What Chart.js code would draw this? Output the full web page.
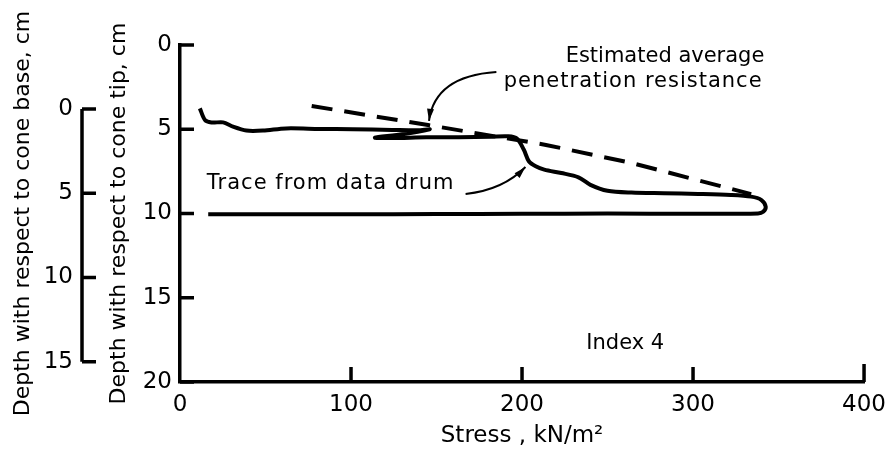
<!DOCTYPE html>
<html>
<head>
<meta charset="utf-8">
<script src="https://cdn.jsdelivr.net/npm/chart.js@4"></script>
<style>
  html, body { margin: 0; padding: 0; background: #fff; }
</style>
</head>
<body>
<canvas id="chartCono" width="895" height="453"></canvas>
<script>
// ejes
const stressTicks = [0, 100, 200, 300, 400]
const tipTicks = [0, 5, 10, 15, 20]
const baseTicks = [0, 5, 10, 15]
const baseOffset = 3.8   // la base del cono queda 3.8 cm arriba de la punta

// traza del tambor (esfuerzo kN/m2, profundidad desde la punta cm)
const traceStress = [11.6, 14.6, 18.4, 25.2, 31, 38.8, 48.5, 62, 81.5, 101, 124, 140, 146,
    130, 114, 124, 144, 163, 182, 192, 197, 201, 204, 208, 213, 223, 233, 240, 250, 264,
    283, 303, 322, 334, 340, 342.5, 341, 338, 300, 250, 200, 150, 100, 50, 16.5]
const traceDepth = [3.76, 4.45, 4.6, 4.59, 4.85, 5.08, 5.08, 4.95, 4.98, 5.0, 5.04, 5.06, 5.0,
    5.3, 5.5, 5.52, 5.48, 5.48, 5.44, 5.42, 5.55, 6.2, 6.9, 7.2, 7.4, 7.6, 7.85, 8.3, 8.65, 8.76,
    8.8, 8.84, 8.9, 9.0, 9.2, 9.6, 9.9, 10.0, 10.02, 10.0, 10.02, 10.03, 10.05, 10.05, 10.05]

// resistencia promedio estimada (linea discontinua)
const avgStress = [77, 145, 214, 264, 334]
const avgDepth = [3.62, 4.75, 5.93, 7.0, 8.85]

Chart.defaults.font.family = 'DejaVu Sans'
Chart.defaults.color = '#000'

const canvas = document.getElementById('chartCono')
const context = canvas.getContext('2d')

const toPoints = (xs, ys) => xs.map((x, i) => ({ x: x, y: ys[i] }))
const setTicks = (values) => (scale) => { scale.ticks = values.map(v => ({ value: v })) }

// marcas de los ejes hacia adentro y eje de la base
const marcasEjes = {
    id: 'marcasEjes',
    afterDraw(chart) {
        const ctx = chart.ctx
        const { x, y, yBase } = chart.scales
        const area = chart.chartArea
        ctx.save()
        ctx.strokeStyle = '#000'
        ctx.lineWidth = 3.5
        ctx.beginPath()
        tipTicks.forEach(v => {
            const py = y.getPixelForValue(v)
            ctx.moveTo(area.left, py)
            ctx.lineTo(area.left + 14, py)
        })
        stressTicks.slice(1).forEach(v => {
            const px = x.getPixelForValue(v)
            ctx.moveTo(px, area.bottom)
            ctx.lineTo(px, area.bottom - (v === 400 ? 18 : 15))
        })
        const bx = yBase.right
        ctx.moveTo(bx, yBase.getPixelForValue(baseTicks[0]))
        ctx.lineTo(bx, yBase.getPixelForValue(baseTicks[baseTicks.length - 1]))
        baseTicks.forEach(v => {
            const py = yBase.getPixelForValue(v)
            ctx.moveTo(bx, py)
            ctx.lineTo(bx + 14, py)
        })
        ctx.stroke()
        ctx.restore()
    }
}

// textos y flechas
const notas = {
    id: 'notas',
    afterDraw(chart) {
        const ctx = chart.ctx
        const { x, y } = chart.scales
        const p = (s, d) => [x.getPixelForValue(s), y.getPixelForValue(d)]

        ctx.save()
        ctx.fillStyle = '#000'
        ctx.font = '21px "DejaVu Sans"'
        ctx.textBaseline = 'middle'
        ctx.textAlign = 'center'
        let t = p(283.6, 0.71); ctx.fillText('Estimated average', t[0], t[1])
        ctx.letterSpacing = '1px'
        t = p(265, 2.14); ctx.fillText('penetration resistance', t[0], t[1])
        ctx.textAlign = 'left'
        t = p(15.7, 8.25); ctx.fillText('Trace from data drum', t[0], t[1])
        ctx.letterSpacing = '0px'
        t = p(237.6, 17.7); ctx.fillText('Index 4', t[0], t[1])

        const flecha = (a, c, b) => {
            const [ax, ay] = p(a[0], a[1])
            const [cx, cy] = p(c[0], c[1])
            const [bx, by] = p(b[0], b[1])
            ctx.strokeStyle = '#000'
            ctx.lineWidth = 2
            ctx.beginPath()
            ctx.moveTo(ax, ay)
            ctx.quadraticCurveTo(cx, cy, bx, by)
            ctx.stroke()
            const ang = Math.atan2(by - cy, bx - cx)
            const len = 12, w = 3.5
            ctx.beginPath()
            ctx.moveTo(bx, by)
            ctx.lineTo(bx - len * Math.cos(ang) + w * Math.sin(ang), by - len * Math.sin(ang) - w * Math.cos(ang))
            ctx.lineTo(bx - len * Math.cos(ang) - w * Math.sin(ang), by - len * Math.sin(ang) + w * Math.cos(ang))
            ctx.closePath()
            ctx.fill()
        }
        flecha([185, 1.6], [149, 1.84], [145.6, 4.5])
        flecha([167, 8.84], [189, 8.6], [202, 7.24])
        ctx.restore()
    }
}

const chartCono = new Chart(context, {
    type: 'line',
    data: {
        datasets: [
            {
                label: 'Trace from data drum',
                data: toPoints(traceStress, traceDepth),
                borderColor: '#000',
                borderWidth: 4,
                pointRadius: 0,
                tension: 0.3,
                fill: false
            },
            {
                label: 'Estimated average penetration resistance',
                data: toPoints(avgStress, avgDepth),
                borderColor: '#000',
                borderWidth: 4,
                borderDash: [21, 12],
                pointRadius: 0,
                tension: 0,
                fill: false
            }
        ]
    },
    options: {
        responsive: false,
        devicePixelRatio: 1,
        animation: false,
        layout: { padding: { left: 0, top: 45, right: 28, bottom: 0 } },
        plugins: {
            legend: { display: false },
            tooltip: { enabled: false }
        },
        scales: {
            x: {
                type: 'linear',
                position: 'bottom',
                min: 0,
                max: 400,
                afterBuildTicks: setTicks(stressTicks),
                afterFit: (scale) => { scale.height = 71 },
                ticks: { font: { size: 23 }, padding: 9, maxRotation: 0 },
                grid: { drawOnChartArea: false, drawTicks: false },
                border: { color: '#000', width: 3.5 },
                title: {
                    display: true,
                    text: 'Stress , kN/m²',
                    font: { size: 23 },
                    padding: { top: 0, bottom: 3 }
                }
            },
            y: {
                type: 'linear',
                position: 'left',
                weight: 0,
                min: 0,
                max: 20,
                reverse: true,
                afterBuildTicks: setTicks(tipTicks),
                afterFit: (scale) => { scale.width = 98 },
                ticks: { font: { size: 23 }, padding: 8 },
                grid: { drawOnChartArea: false, drawTicks: false },
                border: { color: '#000', width: 3.5 },
                title: {
                    display: true,
                    text: 'Depth with respect to cone tip, cm',
                    font: { size: 22 },
                    padding: { top: 24, bottom: 0 }
                }
            },
            yBase: {
                type: 'linear',
                position: 'left',
                weight: 1,
                min: -baseOffset,
                max: 20 - baseOffset,
                reverse: true,
                afterBuildTicks: setTicks(baseTicks),
                afterFit: (scale) => { scale.width = 82 },
                ticks: { font: { size: 23 }, padding: 9 },
                grid: { display: false, drawTicks: false },
                border: { display: false },
                title: {
                    display: true,
                    text: 'Depth with respect to cone base, cm',
                    font: { size: 22 },
                    padding: { top: 10, bottom: 0 }
                }
            }
        }
    },
    plugins: [marcasEjes, notas]
})
</script>
</body>
</html>
